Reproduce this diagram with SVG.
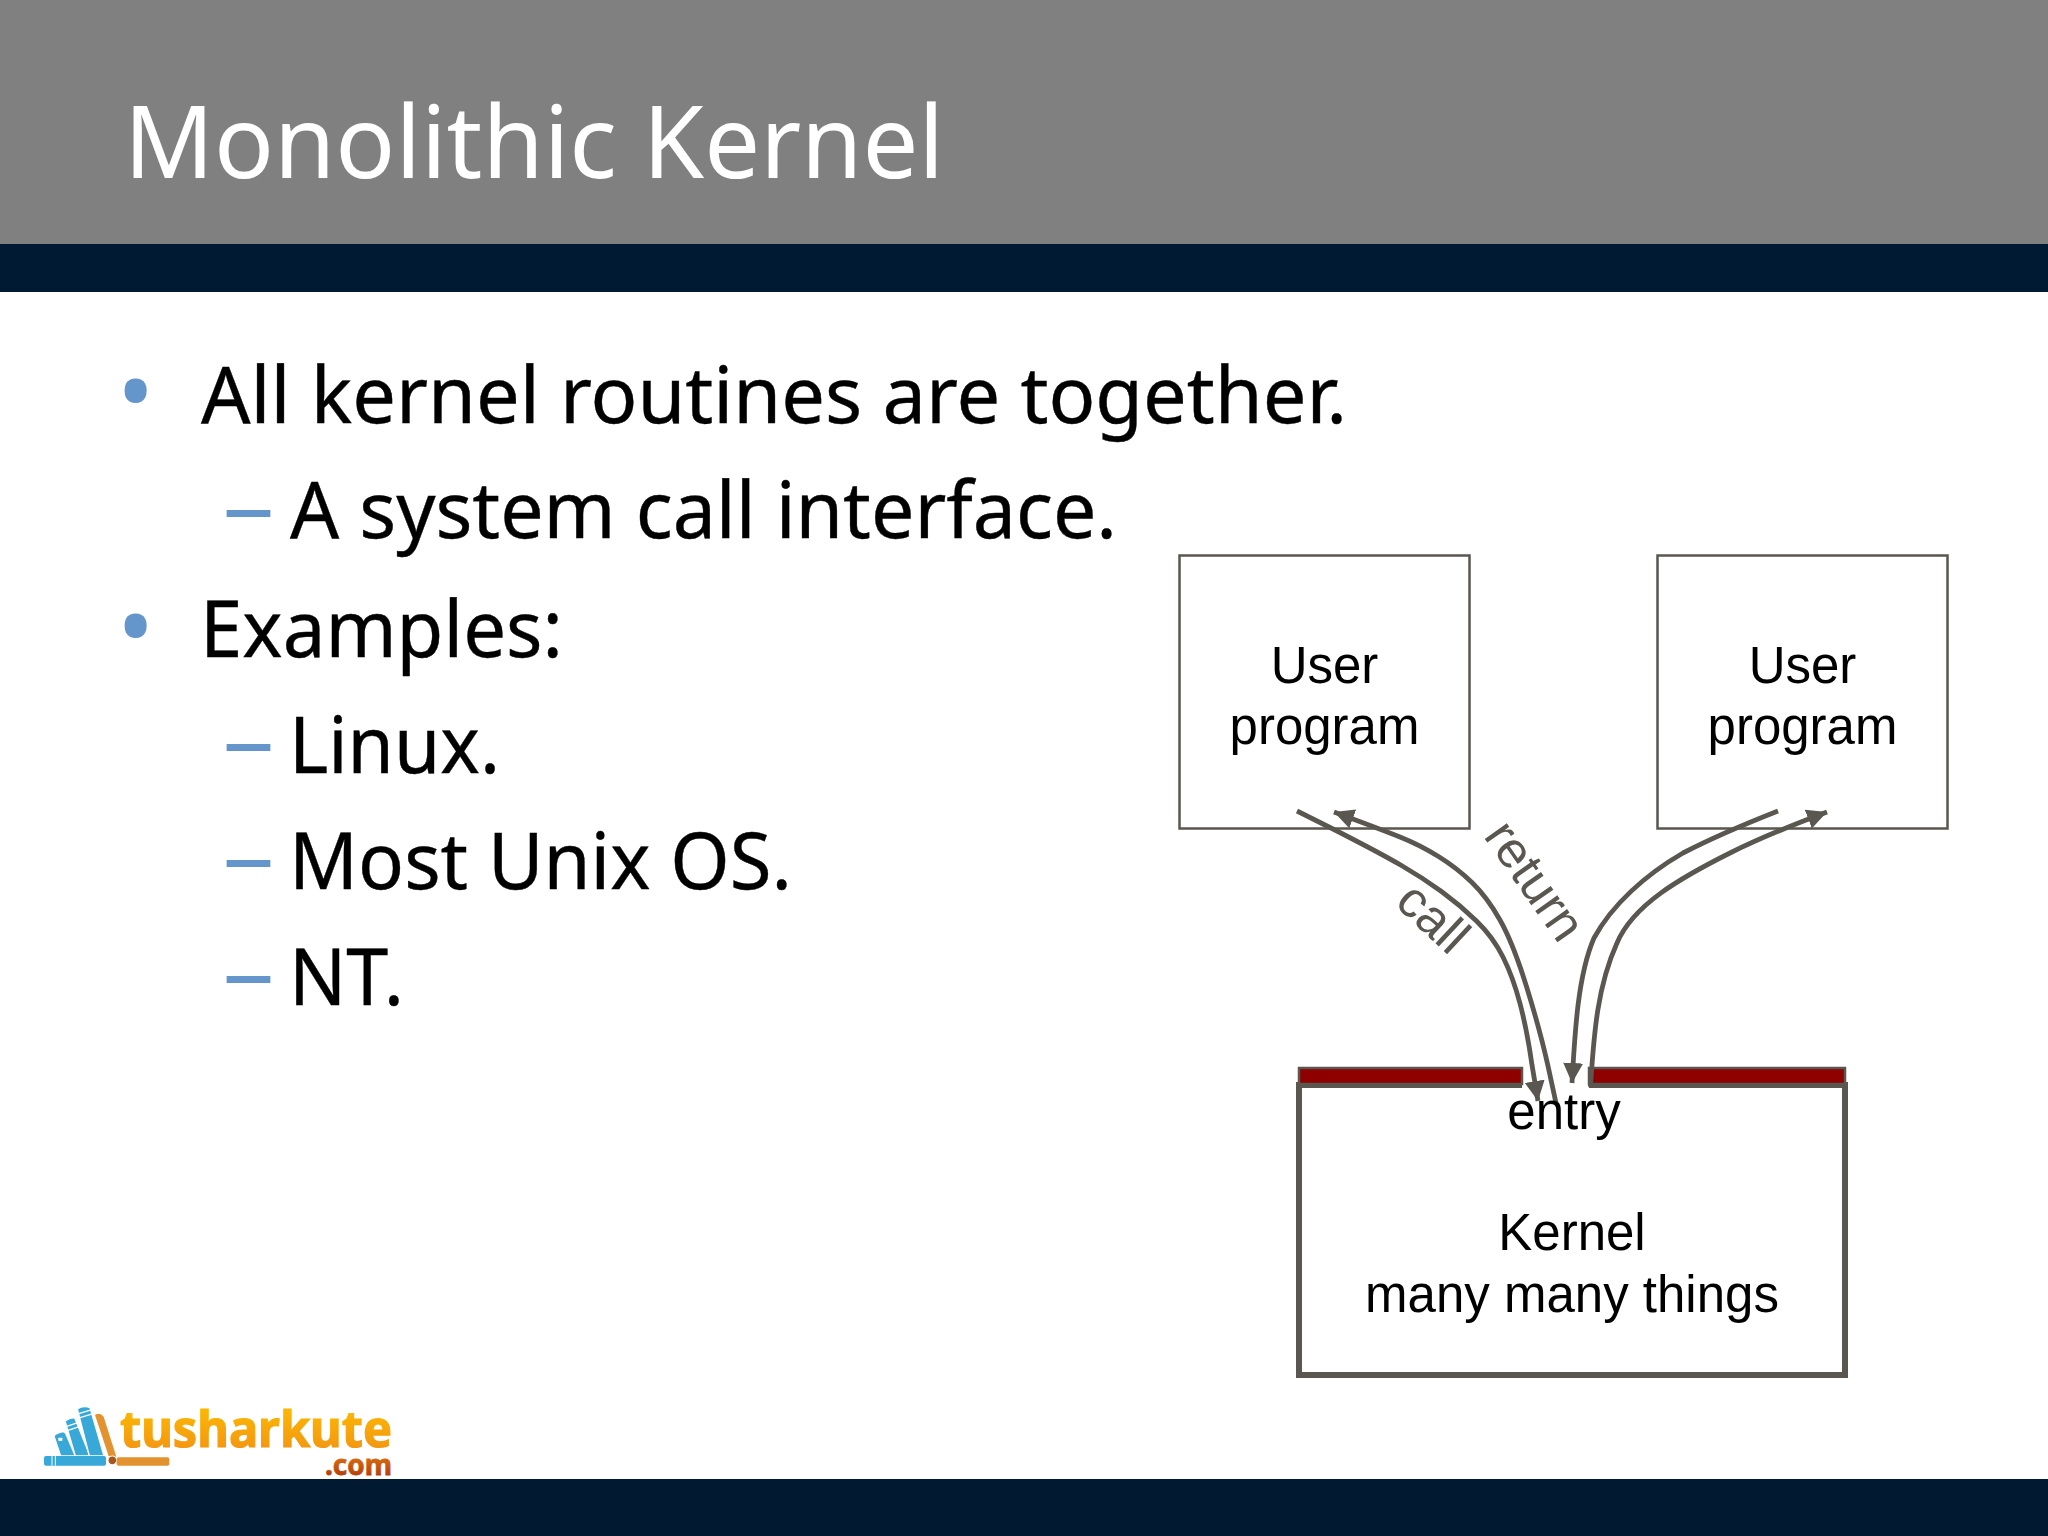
<svg xmlns="http://www.w3.org/2000/svg" width="2048" height="1536" viewBox="0 0 2048 1536">
<defs>
<marker id="ah" markerUnits="userSpaceOnUse" markerWidth="22" markerHeight="22" refX="20" refY="10" orient="auto"><path d="M0 0L20 10L0 20Z" fill="#5a5650"/></marker>
<linearGradient id="lg" x1="0" y1="0" x2="0" y2="1"><stop offset="0" stop-color="#ffc400"/><stop offset="1" stop-color="#f08c14"/></linearGradient>
<linearGradient id="lc" x1="0" y1="0" x2="0" y2="1"><stop offset="0" stop-color="#f08c14"/><stop offset="1" stop-color="#a82c08"/></linearGradient>
</defs>
<style>
.ub{font-family:"Noto Sans","Open Sans",sans-serif;fill:#000}
.body{font-size:79px;stroke:#000;stroke-width:.4}
.mk{fill:#6496cc}
.bl{font-size:99px}
.da{font-size:90px}
.ls{font-family:"Liberation Sans",Arial,sans-serif;font-size:51px;fill:#000;text-anchor:middle}
.box{fill:#fff;stroke:#5a5650;stroke-width:2.5}
.bar{fill:#8e0000;stroke:#5a5650;stroke-width:2.5}
.cn{fill:none;stroke:#5a5650;stroke-width:4.8}
.lb{font-family:"Liberation Sans",Arial,sans-serif;font-size:51px;fill:#5a5650;text-anchor:middle}
</style>
<rect width="2048" height="1536" fill="#fff"/>
<g id="header">
<rect width="2048" height="244" fill="#808080"/>
<rect y="244" width="2048" height="48" fill="#001a33"/>
<text x="124" y="178" class="ub" style="font-size:101px;fill:#fff" textLength="820" lengthAdjust="spacingAndGlyphs">Monolithic Kernel</text>
</g>
<rect id="footer" y="1479" width="2048" height="57" fill="#021932"/>
<g id="bullets">
<text x="117" y="427" class="ub mk bl">•</text>
<text x="201" y="423" class="ub body" textLength="1146" lengthAdjust="spacingAndGlyphs">All kernel routines are together.</text>
<text x="222.6" y="537.5" class="ub mk da" textLength="52" lengthAdjust="spacingAndGlyphs">–</text>
<text x="290" y="538" class="ub body" textLength="827" lengthAdjust="spacingAndGlyphs">A system call interface.</text>
<text x="117" y="661.5" class="ub mk bl">•</text>
<text x="200" y="657" class="ub body" textLength="363" lengthAdjust="spacingAndGlyphs">Examples:</text>
<text x="222.6" y="771.5" class="ub mk da" textLength="52" lengthAdjust="spacingAndGlyphs">–</text>
<text x="289" y="773" class="ub body" textLength="211" lengthAdjust="spacingAndGlyphs">Linux.</text>
<text x="222.6" y="887.5" class="ub mk da" textLength="52" lengthAdjust="spacingAndGlyphs">–</text>
<text x="289" y="889" class="ub body" textLength="503" lengthAdjust="spacingAndGlyphs">Most Unix OS.</text>
<text x="222.6" y="1003.5" class="ub mk da" textLength="52" lengthAdjust="spacingAndGlyphs">–</text>
<text x="289" y="1005" class="ub body" textLength="115" lengthAdjust="spacingAndGlyphs">NT.</text>
</g>
<g id="user1"><rect class="box" x="1179.5" y="555.5" width="290" height="273"/>
<text class="ls" x="1324.5" y="683">User</text><text class="ls" x="1324.5" y="744">program</text></g>
<g id="user2"><rect class="box" x="1657.5" y="555.5" width="290" height="273"/>
<text class="ls" x="1802.5" y="683">User</text><text class="ls" x="1802.5" y="744">program</text></g>
<g id="kernel"><rect x="1299" y="1085" width="546" height="290" fill="#fff"/>
<path d="M1522 1085H1299V1375H1845V1085H1589" fill="none" stroke="#5a5650" stroke-width="6"/>
<text class="ls" x="1572" y="1250">Kernel</text><text class="ls" x="1572" y="1312">many many things</text></g>
<g id="entry-bars"><rect class="bar" x="1299" y="1068" width="223" height="16"/><rect class="bar" x="1589" y="1068" width="256" height="16"/></g>
<g id="connectors">
<path class="cn" marker-end="url(#ah)" d="M1297 811L1333 829Q1380 853 1401.5 865.5Q1423 878 1441.5 891.5Q1460 905 1476.5 921Q1493 937 1503 957Q1513 977 1520 1003.5Q1527 1030 1532 1065L1538 1101"/>
<path class="cn" marker-end="url(#ah)" d="M1556 1103L1548 1066Q1540 1030 1526.5 986.5Q1513 943 1500 920Q1487 897 1472 882.5Q1457 868 1438.5 856.5Q1420 845 1400 837Q1380 829 1334 812"/>
<path class="cn" marker-end="url(#ah)" d="M1778 811C1745 824 1710 839 1683 853C1645 875 1612 905 1594 938C1578 975 1575 1030 1572 1083"/>
<path class="cn" marker-end="url(#ah)" d="M1590.5 1087C1594 1030 1598 985 1617 943C1633 905 1680 878 1730 853C1760 838 1795 824 1827 812"/>
</g>
<text id="call" class="lb" transform="translate(1421.5 930.4) rotate(43)">call</text>
<text id="return" class="lb" transform="translate(1521 890.5) rotate(55)">return</text>
<text id="entry" class="ls" x="1564" y="1129">entry</text>
<g id="logo">
<g transform="translate(40 1395) scale(.33333)">
<g fill="#38a8d8" stroke="#fff" stroke-width="4" stroke-linejoin="round">
<path d="M42 124Q44 116 68 110Q76 110 80 122L106 183H62Z"/>
<path d="M75 78Q90 68 104 68L150 183H106Z"/>
<path d="M112 42Q130 30 150 38L192 183H148Z"/>
</g>
<path d="M80 94L116 82M84 106L120 94M116 56L156 44M120 68L160 56" stroke="#fff" stroke-width="4" fill="none"/>
<rect x="55" y="128" width="12" height="10" rx="2" fill="#fff"/>
<path d="M165 60Q180 50 191 65L229 185L206 183Z" fill="#e2922e"/>
<rect x="12" y="183" width="186" height="29" rx="6" fill="#38a8d8"/><path d="M36 183V212M46 183V212" stroke="#fff" stroke-width="3"/>
<circle cx="217" cy="196" r="13" fill="#a5581e" stroke="#fff" stroke-width="3"/>
<rect x="230" y="187" width="158" height="25" rx="6" fill="#e2922e"/>
</g>
<text x="120" y="1447" font-family="'Noto Sans',sans-serif" font-weight="700" font-size="50" fill="url(#lg)" stroke="url(#lg)" stroke-width="1.2" textLength="272" lengthAdjust="spacingAndGlyphs">tusharkute</text>
<text x="325" y="1475" font-family="'Noto Sans',sans-serif" font-weight="700" font-size="29" fill="url(#lc)" stroke="url(#lc)" stroke-width=".8" textLength="67" lengthAdjust="spacingAndGlyphs">.com</text>
</g>
</svg>
